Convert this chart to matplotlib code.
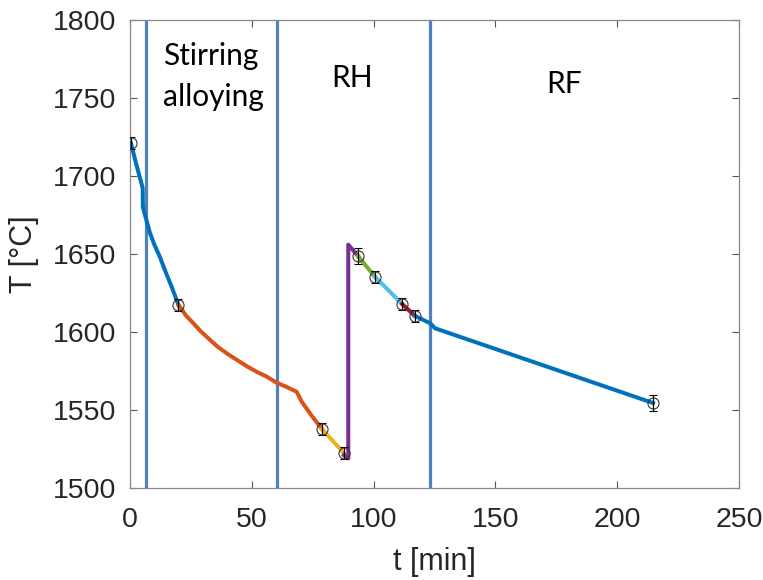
import matplotlib
matplotlib.use("Agg")
import matplotlib.pyplot as plt

# ---- data ----
seg1_t = [0.4, 2.5, 5.2, 5.3, 6.5, 8.2, 10.0, 12.3, 14.5, 17.1, 19.9]
seg1_T = [1721, 1708, 1692.3, 1680, 1673, 1663.5, 1656, 1648, 1639, 1629, 1617.3]
seg2_t = [19.9, 20.5, 23.0, 26.0, 29.0, 32.8, 36.0, 40.0, 44.0, 48.0, 52.0, 56.0,
          60.2, 64.0, 68.4, 70.5, 74.5, 78.8]
seg2_T = [1617.3, 1616.2, 1610.5, 1605.6, 1600.5, 1595.0, 1590.5, 1586.0, 1582.0,
          1578.0, 1574.5, 1571.5, 1567.5, 1565.0, 1561.7, 1555.3, 1546.5, 1537.8]
seg3_t = [78.8, 87.8]
seg3_T = [1537.8, 1522.4]
seg4_t = [87.8, 89.6, 89.6, 93.6]
seg4_T = [1521, 1519, 1656, 1648.7]
seg5_t = [93.6, 100.6]
seg5_T = [1648.7, 1635.3]
seg6_t = [100.6, 111.7]
seg6_T = [1635.3, 1618]
seg7_t = [111.7, 117.0]
seg7_T = [1618, 1610.3]
seg8_t = [117.0, 123.2, 125.2, 214.7]
seg8_T = [1610.3, 1605.6, 1602.4, 1554.5]

meas_t = [0.4, 19.7, 78.8, 87.8, 93.6, 100.6, 111.7, 117.0, 214.7]
meas_T = [1721, 1617.3, 1537.8, 1522.4, 1648.7, 1635.3, 1618, 1610.3, 1554.5]
meas_err = [4, 4, 4, 4, 5, 4, 4, 4, 5]

phase_t = [6.4, 60.2, 123.2]
phase_labels = ["Stirring", "alloying", "RH", "RF"]

seg_colors = ["#0072BD", "#D95319", "#EDB120", "#7E2F8E", "#77AC30",
              "#4DBEEE", "#A2142F", "#0072BD"]

segs = [(seg1_t, seg1_T), (seg2_t, seg2_T), (seg3_t, seg3_T), (seg4_t, seg4_T),
        (seg5_t, seg5_T), (seg6_t, seg6_T), (seg7_t, seg7_T), (seg8_t, seg8_T)]

fig = plt.figure(figsize=(7.63, 5.80), dpi=100)
ax = fig.add_axes([130/763, 1-488/580, (739-130)/763, (488-20)/580])

for (t, T), c in zip(segs, seg_colors):
    ax.plot(t, T, color=c, lw=2.9, solid_joinstyle="round", zorder=3)

for x in phase_t:
    ax.axvline(x, color="#4F81BD", lw=2.3, zorder=2)

ax.errorbar(meas_t, meas_T, yerr=meas_err, fmt="o", mfc="none", mec="#333333",
            ms=8, mew=0.8, ecolor="black", elinewidth=0.9, capsize=3, capthick=0.9,
            zorder=4)

tfont = dict(family=["Lato", "DejaVu Sans"], fontsize=21.5, color="black")
ax.text(13.5, 1771, phase_labels[0], ha="left", va="baseline", **tfont)
ax.text(13.5, 1745, phase_labels[1], ha="left", va="baseline", **tfont)
ax.text(91.2, 1757, phase_labels[2], ha="center", va="baseline", **tfont)
ax.text(178.2, 1753, phase_labels[3], ha="center", va="baseline", **tfont)

ax.set_xlim(0, 250)
ax.set_ylim(1500, 1800)
ax.set_xticks([0, 50, 100, 150, 200, 250])
ax.set_yticks([1500, 1550, 1600, 1650, 1700, 1750, 1800])

lab_font = ["Liberation Sans", "DejaVu Sans"]
for lab in ax.get_xticklabels() + ax.get_yticklabels():
    lab.set_fontfamily(lab_font)
    lab.set_fontsize(20.5)
    lab.set_color("#262626")
ax.tick_params(direction="in", length=5, width=0.8, color="#555555",
               top=True, right=True)
ax.tick_params(axis="x", pad=14)
ax.tick_params(axis="y", pad=10)
for s in ax.spines.values():
    s.set_color("#888888")
    s.set_linewidth(0.9)

ax.set_xlabel("t [min]", fontsize=22, family=lab_font, color="#262626", labelpad=10)
ax.set_ylabel("T [°C]", fontsize=22, family=lab_font, color="#262626", labelpad=10)

fig.savefig("out.png", dpi=100)
